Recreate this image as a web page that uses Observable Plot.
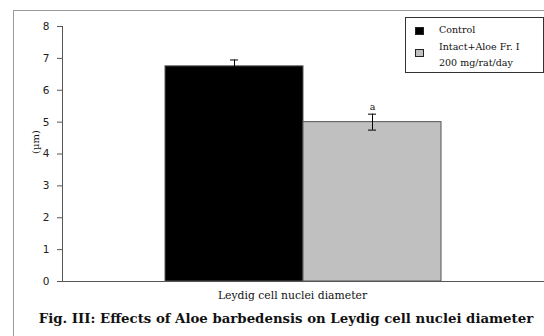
<!DOCTYPE html>
<html>
<head>
<meta charset="utf-8">
<script src="https://cdn.jsdelivr.net/npm/d3@7"></script>
<script src="https://cdn.jsdelivr.net/npm/@observablehq/plot@0.6"></script>
<style>
  html, body { margin: 0; padding: 0; background: #fff; }
  #wrap { position: relative; width: 544px; height: 336px; overflow: hidden; background: #fff; }
  #border { position: absolute; left: 13px; top: 10px; right: -2px; bottom: -2px; border-left: 1px solid #9a9a9a; border-top: 1px solid #9a9a9a; }
  #chart { position: absolute; left: 0; top: 0; }
  #legend { position: absolute; left: 405px; top: 17px; width: 137px; height: 54px; border: 1px solid #333; background: #fff;
            font-family: "DejaVu Serif", serif; font-size: 9.5px; color: #111; }
  .item { position: absolute; left: 33px; line-height: 16px; white-space: nowrap; }
  .sw { position: absolute; left: 9px; width: 9px; height: 8px; box-sizing: border-box; border: 1px solid #222; }
  #title { position: absolute; left: 0; top: 311px; width: 544px; padding-left: 28px; box-sizing: border-box; text-align: center;
           font-family: "DejaVu Serif", serif; font-weight: bold; font-size: 13.3px; color: #111; white-space: nowrap; }
</style>
</head>
<body>
<div id="wrap">
  <div id="border"></div>
  <div id="chart"></div>
  <div id="legend"></div>
  <div id="title"></div>
</div>
<script>
const category = "Leydig cell nuclei diameter";
const series = ["Control", "Intact+Aloe Fr. I 200 mg/rat/day"];
const seriesLegend = [["Control"], ["Intact+Aloe Fr. I", "200 mg/rat/day"]];
const values = [6.75, 5.0];
const errors = [0.2, 0.25];
const marks = ["", "a"];
const colors = ["#000000", "#c0c0c0"];
const yTicks = [0, 1, 2, 3, 4, 5, 6, 7, 8];
const yLabel = "(µm)";
const title = "Fig. III: Effects of Aloe barbedensis on Leydig cell nuclei diameter";

const data = series.map((s, i) => ({
  series: s, value: values[i], lo: values[i] - errors[i], hi: values[i] + errors[i], mark: marks[i]
}));

const plot = Plot.plot({
  width: 544,
  height: 305,
  marginLeft: 62,
  marginRight: 0,
  marginTop: 26,
  marginBottom: 24,
  style: { fontFamily: "DejaVu Sans, sans-serif", fontSize: "10px", color: "#222", background: "transparent" },
  x: { domain: series, paddingInner: 0, paddingOuter: 0.746, axis: null },
  y: { domain: [0, 8], ticks: yTicks, label: null },
  color: { domain: series, range: colors },
  marks: [
    Plot.barY(data, { x: "series", y: "value", fill: "series", stroke: "#555", strokeWidth: 1 }),
    Plot.ruleX(data, { x: "series", y1: "lo", y2: "hi", stroke: "#000", strokeWidth: 1 }),
    Plot.tickY(data, { x: "series", y: "hi", stroke: "#000", insetLeft: 65, insetRight: 65 }),
    Plot.tickY(data, { x: "series", y: "lo", stroke: "#000", insetLeft: 65, insetRight: 65 }),
    Plot.text(data, { x: "series", y: "hi", text: "mark", dy: -7, fontFamily: "DejaVu Serif, serif", fontSize: 9.5, fill: "#111" }),
    Plot.axisY({ ticks: yTicks, tickSize: 5, tickPadding: 8, stroke: "#555", label: null, fontSize: 10.5 }),
    Plot.frame({ anchor: "left", stroke: "#555" }),
    Plot.ruleY([0], { stroke: "#555" }),
    Plot.text([category], { frameAnchor: "bottom", dy: 17, dx: -11, fontFamily: "DejaVu Serif, serif", fontSize: 10.8, fill: "#111" }),
    Plot.text([yLabel], { frameAnchor: "left", dx: -27, rotate: -90, fontFamily: "DejaVu Serif, serif", fontSize: 10, fill: "#111" })
  ]
});
document.getElementById("chart").appendChild(plot);

// legend
const legend = document.getElementById("legend");
const swTops = [9, 31];
const textTops = [4, 21];
seriesLegend.forEach((lines, i) => {
  const sw = document.createElement("div");
  sw.className = "sw";
  sw.style.top = swTops[i] + "px";
  sw.style.background = colors[i];
  legend.appendChild(sw);
  const t = document.createElement("div");
  t.className = "item";
  t.style.top = textTops[i] + "px";
  t.innerHTML = lines.join("<br>");
  legend.appendChild(t);
});
document.getElementById("title").textContent = title;
</script>
</body>
</html>
